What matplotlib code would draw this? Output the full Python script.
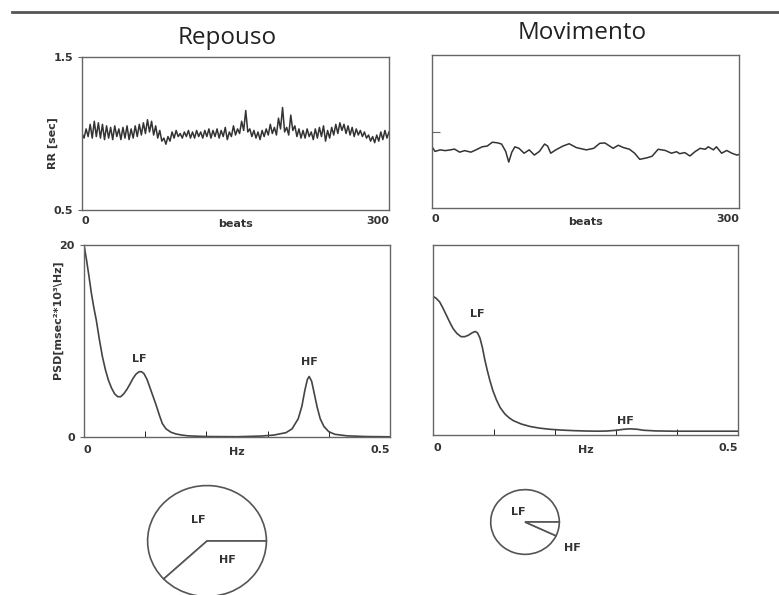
import numpy as np
import matplotlib
matplotlib.use("Agg")
import matplotlib.pyplot as plt
from matplotlib.lines import Line2D

W, H = 779, 595

# ------------------------------------------------------------
# data
# ------------------------------------------------------------
rest_beats = np.arange(0, 301, 2)
rest_rr = [
    1.00, 0.97, 1.03, 0.98, 1.06, 0.97, 1.08, 0.98, 1.07, 0.97,
    1.06, 0.96, 1.05, 0.97, 1.04, 0.96, 1.05, 0.98, 1.03, 0.96,
    1.04, 0.97, 1.05, 0.96, 1.03, 0.97, 1.05, 0.98, 1.06, 0.99,
    1.07, 1.00, 1.09, 1.01, 1.08, 0.99, 1.05, 0.97, 1.02, 0.95,
    0.97, 0.93, 0.98, 0.95, 1.01, 0.97, 1.02, 0.98, 1.00, 0.97,
    1.01, 0.98, 1.02, 0.97, 1.01, 0.97, 1.02, 0.98, 1.01, 0.97,
    1.02, 0.98, 1.03, 0.97, 1.02, 0.98, 1.03, 0.97, 1.02, 0.98,
    1.04, 0.96, 1.01, 0.98, 1.05, 0.99, 1.03, 1.00, 1.08, 1.02,
    1.15, 1.01, 1.03, 0.98, 1.02, 0.97, 1.01, 0.96, 1.02, 0.98,
    1.03, 0.99, 1.06, 1.00, 1.04, 0.99, 1.10, 1.03, 1.17, 1.01,
    1.04, 0.99, 1.12, 1.02, 1.05, 0.98, 1.03, 0.97, 1.02, 0.97,
    1.03, 0.98, 1.01, 0.96, 1.03, 0.97, 1.04, 0.98, 1.05, 0.95,
    1.02, 0.97, 1.04, 0.99, 1.06, 1.00, 1.07, 1.02, 1.06, 1.00,
    1.05, 0.99, 1.04, 0.98, 1.03, 0.99, 1.02, 0.98, 1.01, 0.97,
    0.99, 0.95, 0.98, 0.94, 0.99, 0.95, 1.01, 0.96, 1.02, 0.97,
    1.01,
]

move_beats = [
    0, 3, 8, 13, 18, 22, 27, 32, 38, 43, 49, 54, 59, 64, 68, 72, 75, 78,
    81, 85, 90, 95, 100, 105, 110, 113, 116, 121, 128, 134, 141, 148, 151,
    158, 164, 169, 177, 182, 187, 193, 198, 203, 210, 215, 221, 228, 234,
    239, 242, 247, 252, 257, 262, 267, 270, 275, 278, 283, 288, 293, 298, 300,
]
move_rr = [
    0.900, 0.870, 0.880, 0.875, 0.880, 0.885, 0.865, 0.875, 0.865, 0.880,
    0.900, 0.905, 0.930, 0.926, 0.918, 0.870, 0.800, 0.865, 0.900, 0.890,
    0.858, 0.880, 0.846, 0.870, 0.918, 0.905, 0.858, 0.880, 0.905, 0.920,
    0.895, 0.884, 0.880, 0.890, 0.923, 0.925, 0.890, 0.910, 0.895, 0.884,
    0.858, 0.818, 0.828, 0.838, 0.884, 0.876, 0.858, 0.868, 0.855, 0.862,
    0.840, 0.868, 0.890, 0.884, 0.900, 0.880, 0.900, 0.858, 0.876, 0.858,
    0.846, 0.850,
]

rest_freq = [
    0.000, 0.004, 0.008, 0.012, 0.016, 0.020, 0.025, 0.030, 0.035, 0.040,
    0.045, 0.050, 0.055, 0.060, 0.065, 0.070, 0.075, 0.080, 0.085, 0.090,
    0.094, 0.098, 0.103, 0.108, 0.113, 0.118, 0.123, 0.128, 0.134, 0.142,
    0.150, 0.160, 0.170, 0.185, 0.200, 0.250, 0.290, 0.310, 0.330, 0.340,
    0.350, 0.356, 0.361, 0.365, 0.368, 0.372, 0.376, 0.381, 0.386, 0.392,
    0.400, 0.410, 0.430, 0.460, 0.500,
]
rest_psd = [
    20.0, 18.5, 16.8, 15.0, 13.5, 12.2, 10.2, 8.4, 7.0, 5.9,
    5.1, 4.5, 4.2, 4.2, 4.5, 4.95, 5.5, 6.1, 6.55, 6.8,
    6.8, 6.6, 6.0, 5.1, 4.2, 3.3, 2.3, 1.4, 0.85, 0.5,
    0.32, 0.2, 0.12, 0.08, 0.05, 0.03, 0.1, 0.2, 0.45, 0.85,
    1.9, 3.2, 4.9, 6.0, 6.3, 5.8, 4.6, 3.1, 1.9, 1.1,
    0.55, 0.28, 0.12, 0.05, 0.02,
]

move_freq = [
    0.000, 0.005, 0.011, 0.016, 0.022, 0.028, 0.033, 0.039, 0.046, 0.052,
    0.058, 0.064, 0.069, 0.073, 0.077, 0.081, 0.085, 0.089, 0.093, 0.098,
    0.104, 0.110, 0.118, 0.125, 0.132, 0.145, 0.159, 0.175, 0.192, 0.210,
    0.230, 0.250, 0.270, 0.285, 0.301, 0.312, 0.323, 0.335, 0.345, 0.365,
    0.394, 0.450, 0.500,
]
move_psd = [
    14.6, 14.4, 14.0, 13.4, 12.6, 11.8, 11.2, 10.7, 10.35, 10.35,
    10.5, 10.75, 10.9, 10.75, 10.2, 9.2, 7.9, 6.8, 5.8, 4.7,
    3.7, 2.9, 2.2, 1.8, 1.5, 1.15, 0.9, 0.72, 0.6, 0.52,
    0.46, 0.42, 0.4, 0.42, 0.5, 0.6, 0.65, 0.6, 0.5, 0.43,
    0.4, 0.4, 0.4,
]

pie_labels = ["LF", "HF"]
rest_share = [62, 38]
move_share = [93, 7]

# ------------------------------------------------------------
# figure
# ------------------------------------------------------------
INK = "#333333"
FRAME = "#666666"
TICKFONT = dict(fontsize=8, fontweight="bold", color=INK)

fig = plt.figure(figsize=(W / 100, H / 100), dpi=100)


def box(x0, y0, x1, y1):
    # pixel box (top-left origin) -> figure fraction rect
    return [x0 / W, 1 - y1 / H, (x1 - x0) / W, (y1 - y0) / H]


def frame(ax):
    for s in ax.spines.values():
        s.set_color(FRAME)
        s.set_linewidth(1.0)
    ax.tick_params(colors=FRAME, labelcolor=INK, labelsize=8)


fig.add_artist(Line2D([12 / W, 1], [1 - 12 / H, 1 - 12 / H],
                      transform=fig.transFigure, color="#555555", lw=2))
fig.text(227 / W, 1 - 38 / H, "Repouso", ha="center", va="center",
         fontsize=17.5, family="Open Sans", color="#222222")
fig.text(582 / W, 1 - 33 / H, "Movimento", ha="center", va="center",
         fontsize=17.5, family="Open Sans", color="#222222")

# axis titles placed where the scan has them
fig.text(53 / W, 1 - 143 / H, "RR [sec]", rotation=90, ha="center",
         va="center", **TICKFONT)
fig.text(58 / W, 1 - 320 / H, "PSD[msec²*10³\\Hz]", rotation=90,
         ha="center", va="center", **TICKFONT)

# RR tachograms
ax1 = fig.add_axes(box(82, 57, 389, 210))
ax1.plot(rest_beats, rest_rr, color=INK, lw=1.1)
ax1.set_xlim(0, 300)
ax1.set_ylim(0.5, 1.5)
ax1.set_yticks([0.5, 1.5], ["0.5", "1.5"])
ax1.tick_params(axis="y", direction="out", length=3)

ax2 = fig.add_axes(box(432, 55, 739, 208))
ax2.plot(move_beats, move_rr, color=INK, lw=1.1)
ax2.set_xlim(0, 300)
ax2.set_ylim(0.5, 1.5)
ax2.set_yticks([1.0], [""])
ax2.tick_params(axis="y", direction="in", length=6)

for ax in (ax1, ax2):
    frame(ax)
    ax.set_xticks([0, 300], ["0", "300"])
    ax.tick_params(axis="x", length=0, pad=4)
    lab = ax.get_xticklabels()
    lab[0].set_ha("left")
    lab[1].set_ha("right")
    for t in ax.get_xticklabels() + ax.get_yticklabels():
        t.set_fontweight("bold")
    ax.set_xlabel("beats", **TICKFONT, labelpad=-5)

# spectra
ax3 = fig.add_axes(box(84, 245, 390, 437))
ax3.plot(rest_freq, rest_psd, color="#444444", lw=1.2)
ax3.set_yticks([0, 20], ["0", "20"])
ax3.tick_params(axis="y", direction="out", length=3)
ax3.text(0.091, 7.6, "LF", ha="center", va="bottom", **TICKFONT)
ax3.text(0.369, 7.3, "HF", ha="center", va="bottom", **TICKFONT)

ax4 = fig.add_axes(box(433, 245, 738, 435))
ax4.plot(move_freq, move_psd, color="#444444", lw=1.2)
ax4.set_yticks([])
ax4.text(0.073, 12.2, "LF", ha="center", va="bottom", **TICKFONT)
ax4.text(0.316, 1.0, "HF", ha="center", va="bottom", **TICKFONT)

for ax in (ax3, ax4):
    frame(ax)
    ax.set_xlim(0, 0.5)
    ax.set_ylim(0, 20)
    ax.set_xticks([0, 0.5], ["0", "0.5"])
    ax.set_xticks([0.1, 0.2, 0.3, 0.4], minor=True)
    ax.tick_params(axis="x", which="major", length=0, pad=6)
    ax.tick_params(axis="x", which="minor", direction="in", length=4)
    lab = ax.get_xticklabels()
    lab[0].set_ha("left")
    lab[1].set_ha("right")
    for t in ax.get_xticklabels() + ax.get_yticklabels():
        t.set_fontweight("bold")
    ax.set_xlabel("Hz", **TICKFONT, labelpad=-6)

# pies
wedge = dict(edgecolor="#555555", facecolor="white", linewidth=1.2)

ax5 = fig.add_axes(box(147, 485, 267, 597))
ax5.pie(rest_share, startangle=0, counterclock=True, wedgeprops=wedge)
ax5.set_aspect("auto")
ax5.set_xlim(-1.01, 1.01)
ax5.set_ylim(-1.01, 1.01)
ax5.text(-0.15, 0.37, pie_labels[0], ha="center", va="center", **TICKFONT)
ax5.text(0.35, -0.34, pie_labels[1], ha="center", va="center", **TICKFONT)

ax6 = fig.add_axes(box(490, 489, 560, 555))
ax6.pie(move_share, startangle=0, counterclock=True, wedgeprops=wedge)
ax6.set_aspect("auto")
ax6.set_xlim(-1.02, 1.02)
ax6.set_ylim(-1.02, 1.02)
ax6.text(-0.2, 0.3, pie_labels[0], ha="center", va="center", **TICKFONT)
ax6.text(1.39, -0.79, pie_labels[1], ha="center", va="center", **TICKFONT)

fig.savefig("out.png", dpi=100)
